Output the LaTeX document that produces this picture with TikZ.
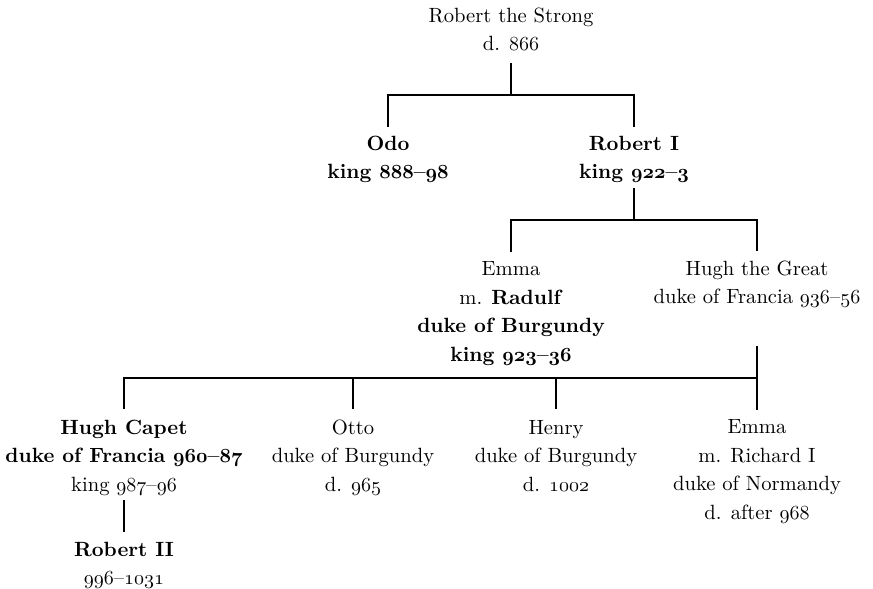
\documentclass[tikz,border=0pt]{standalone}
\makeatletter
\newcommand\osn[1]{{\usefont{OML}{cmm}{\f@series}{it}#1}}
\makeatother
\tikzset{
  person/.style={align=center, inner sep=0pt, font=\fontsize{10.3}{14.25}\selectfont},
  conn/.style={draw, line width=0.65pt},
  dropend/.style={shorten >=2pt}
}
\begin{document}
\begin{tikzpicture}[x=0.5pt,y=-0.5pt]
\useasboundingbox (0,0) rectangle (873,589);
% people
\node[person] (rts) at (511,31) {\strut Robert the Strong\\\strut d. \osn{866}};
\node[person] (odo) at (388,159) {\strut\textbf{Odo}\\\strut\textbf{king \osn{888}–\osn{98}}};
\node[person] (rob1) at (634,159) {\strut\textbf{Robert I}\\\strut\textbf{king \osn{922}–\osn{3}}};
\node[person] (emma1) at (511,313) {\strut Emma\\\strut m. \textbf{Radulf}\\\strut\textbf{duke of Burgundy}\\\strut\textbf{king \osn{923}–\osn{36}}};
\node[person] (hugh) at (757,284) {\strut Hugh the Great\\\strut duke of Francia \osn{936}–\osn{56}};
\node[person] (capet) at (124,457) {\strut\textbf{Hugh Capet}\\\strut\textbf{duke of Francia \osn{960}–\osn{87}}\\\strut king \osn{987}–\osn{96}};
\node[person] (otto) at (353,457) {\strut Otto\\\strut duke of Burgundy\\\strut d. \osn{965}};
\node[person] (henry) at (556,457) {\strut Henry\\\strut duke of Burgundy\\\strut d. \osn{1002}};
\node[person] (emma2) at (757,471) {\strut Emma\\\strut m. Richard I\\\strut duke of Normandy\\\strut d. after \osn{968}};
\node[person] (rob2) at (124,565) {\strut\textbf{Robert II}\\\strut \osn{996}–\osn{1031}};
% junctions
\coordinate (j1) at (511,95);
\coordinate (j2) at (634,220);
\coordinate (hg) at (757,346);
\coordinate (j3) at (757,378);
% connectors
\draw[conn, shorten <=1.5pt] (rts.south) -- (j1);
\draw[conn, shorten >=1.75pt] (j1) -| (odo.north);
\draw[conn, shorten >=1.75pt] (j1) -| (rob1.north);
\draw[conn] (rob1.south) -- (j2);
\draw[conn, dropend] (j2) -| (emma1.north);
\draw[conn, dropend] (j2) -| (hugh.north);
\draw[conn] (hg) -- (j3);
\draw[conn, shorten >=2.5pt] (j3) -| (capet.north);
\draw[conn, shorten >=2.5pt] (j3) -| (otto.north);
\draw[conn, shorten >=2.5pt] (j3) -| (henry.north);
\draw[conn, shorten >=2pt] (j3) -- (emma2.north);
\draw[conn, shorten >=2.25pt] (capet.south) -- (rob2.north);
\end{tikzpicture}
\end{document}
